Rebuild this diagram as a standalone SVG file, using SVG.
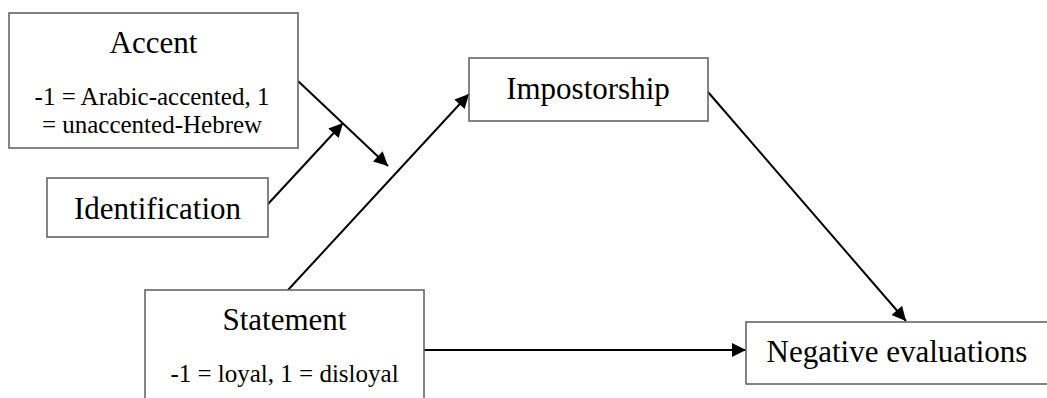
<svg xmlns="http://www.w3.org/2000/svg" width="1047" height="398" viewBox="0 0 1047 398">
<style>
.box{fill:#fff;stroke:#666;stroke-width:1.6}
.t{font-family:"Liberation Serif","Times New Roman",serif;fill:#000;text-anchor:middle}
.title{font-size:31px}
.sub{font-size:25px}
.edge{stroke:#000;stroke-width:2;fill:none;marker-end:url(#ah)}
</style>
<defs>
<marker id="ah" viewBox="0 0 10 10" refX="10" refY="5" markerWidth="8.5" markerHeight="7" markerUnits="strokeWidth" orient="auto">
<path d="M0,0 L10,5 L0,10 z" fill="#000"/>
</marker>
</defs>
<rect width="1047" height="398" fill="#fff"/>
<g id="connectors">
<line class="edge" x1="298" y1="81" x2="388" y2="166"/>
<line class="edge" x1="268" y1="204" x2="343" y2="123"/>
<line class="edge" x1="288" y1="290" x2="469" y2="94"/>
<line class="edge" x1="708" y1="92" x2="906" y2="321"/>
<line class="edge" x1="424" y1="350" x2="746" y2="350"/>
</g>
<g id="accent">
<rect class="box" x="9" y="13" width="289" height="135"/>
<text class="t title" x="153.5" y="53">Accent</text>
<text class="t sub" x="152" y="105">-1 = Arabic-accented, 1</text>
<text class="t sub" x="152" y="132.5">= unaccented-Hebrew</text>
</g>
<g id="identification">
<rect class="box" x="47" y="178" width="221" height="59"/>
<text class="t title" x="157.5" y="219">Identification</text>
</g>
<g id="statement">
<rect class="box" x="145" y="290" width="279" height="120"/>
<text class="t title" x="284.5" y="330">Statement</text>
<text class="t sub" x="284.5" y="382">-1 = loyal, 1 = disloyal</text>
</g>
<g id="impostorship">
<rect class="box" x="469" y="58" width="239" height="63"/>
<text class="t title" x="588" y="99">Impostorship</text>
</g>
<g id="negative">
<rect class="box" x="746" y="322" width="310" height="62"/>
<text class="t title" x="897" y="362">Negative evaluations</text>
</g>
</svg>
